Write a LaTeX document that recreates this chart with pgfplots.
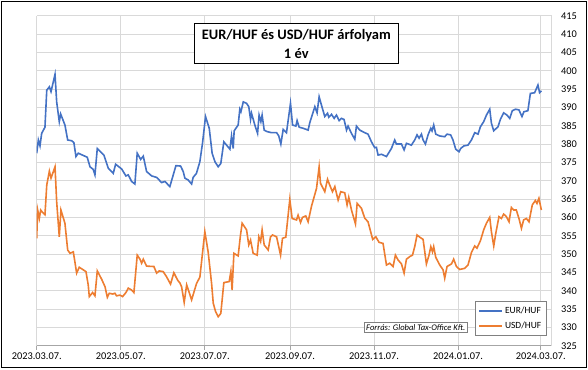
\documentclass[border=0pt]{standalone}
\usepackage{fontspec}
\setmainfont{Carlito}
\usepackage{pgfplots}
\pgfplotsset{compat=1.18}
\definecolor{eurblue}{HTML}{4472C4}
\definecolor{usdorange}{HTML}{ED7D31}
\definecolor{gridgray}{HTML}{D9D9D9}
\definecolor{axgray}{HTML}{A6A6A6}

\begin{document}
\begin{tikzpicture}[x=1bp,y=1bp]
\useasboundingbox (0,0) rectangle (588,369);
\begin{axis}[
 at={(36.7bp,23.3bp)}, anchor=south west,
 scale only axis, width=515bp, height=330bp,
 xmin=0, xmax=374, ymin=325, ymax=415,
 axis x line*=bottom, axis y line*=right,
 x axis line style={draw=axgray, line width=0.8bp, -},
 y axis line style={draw=gridgray, line width=0.8bp, -},
 xtick={0,61,122,184,245,306,366},
 xticklabels={2023.03.07.,2023.05.07.,2023.07.07.,2023.09.07.,2023.11.07.,2024.01.07.,2024.03.07.},
 ytick={325,330,...,415},
 grid=major, major grid style={draw=gridgray, line width=0.8bp},
 xtick align=outside, major tick length=4bp,
 x tick style={draw=axgray, line width=0.8bp},
 y tick style={draw=none},
 tick label style={font=\fontsize{10.4}{12}\selectfont, text=black},
 yticklabel style={xshift=6bp},
 /pgf/number format/assume math mode=true,
 legend style={at={(0.990,0.032)}, anchor=south east, draw=gray, line width=0.6bp,
   font=\fontsize{9.5}{11}\selectfont, cells={anchor=west}, row sep=3bp, inner sep=3bp},
 legend image code/.code={\draw[#1] (0bp,0bp) -- (23bp,0bp);},
]
\addplot[eurblue, line width=1.6bp] coordinates {
(0,377.5) (1.2,381.1) (2.4,379.5) (3.6,382.9) (6,384.6) (7.3,394.7) (9.2,395.6) (10.4,394.3)
(13.3,399.0) (14.5,391.5) (16.4,386.1) (17.4,388.2) (20.5,385.2) (22.5,381.1) (25.4,380.9)
(27,380.4) (28.5,376.6) (30.2,377.5) (36.7,376.4) (38.7,373.8) (41,373.1) (42.3,371.6)
(44,378.8) (48.8,377.0) (52,373.4) (55.6,372.0) (57.3,374.5) (61.7,373.2) (64.8,371.3)
(66.5,371.6) (68.9,369.8) (71.3,369.1) (73,377.5) (75.5,375.8) (77.4,376.7) (79.8,372.5)
(83.5,371.3) (87.1,370.9) (90.7,369.5) (93.1,369.8) (96.7,368.4) (101.1,374.1) (104.5,374.0)
(106.4,372.5) (107.6,370.7) (110,370.2) (112.5,369.1) (113.6,370.9) (116,372.0) (118.5,375.2)
(120.4,380.2) (122.6,387.5) (125.3,384.3) (127.4,377.5) (129.4,375.2) (131.8,373.8) (133.7,374.7)
(135.9,380.6) (137.9,379.7) (140.3,378.6) (141.5,382.2) (142.7,378.8) (143.4,383.6) (146.3,385.2)
(147.5,389.5) (148.3,388.8) (150,391.5) (152.4,391.1) (154,390.2) (155.3,386.7) (156,388.4)
(158.4,385.2) (160.4,382.9) (161.5,387.9) (162.8,386.1) (163.7,387.9) (165.2,383.8) (167.3,383.4)
(170.5,383.1) (174.2,383.1) (175.8,382.2) (177.3,380.0) (179,384.0) (181.4,383.1) (184.3,391.1)
(185.8,385.2) (188.2,384.9) (189.1,386.4) (190.6,384.6) (193.5,384.3) (197.1,383.8) (198.3,385.8)
(202,390.2) (203.6,388.5) (205.1,392.9) (206.8,390.6) (209.2,387.5) (211.2,388.4) (212.1,387.3)
(214.1,388.1) (216,387.0) (217.7,387.9) (219.6,386.4) (221.3,387.0) (223.2,386.7) (225,383.8)
(226.1,384.9) (228.6,382.9) (231,381.3) (232.2,384.9) (234.6,383.8) (238.2,383.1) (240.6,382.7)
(243.1,380.6) (245.5,379.0) (246.7,379.1) (247.9,377.0) (250.4,377.2) (254,376.6) (257.6,378.8)
(260,381.1) (261.2,380.0) (264.9,380.0) (266.8,378.4) (268.5,380.2) (272.1,379.7) (274.5,381.1)
(276.2,382.5) (277.7,381.6) (279.4,382.7) (280.6,381.1) (282.3,380.0) (284.2,382.5) (286.2,384.3)
(287.1,383.6) (288.3,385.2) (289.8,382.7) (292.7,382.2) (296.3,382.0) (298,382.7) (300.6,382.5)
(302.3,381.1) (304.3,378.6) (306.7,377.9) (307.9,378.8) (310.3,379.5) (313.2,379.7) (315.7,381.1)
(318.1,383.1) (320.5,382.7) (322.2,384.7) (324.6,386.1) (326.6,387.9) (329,389.5) (330.2,385.7)
(331.9,383.6) (333.8,384.3) (335,384.7) (336.7,386.7) (339.1,388.5) (341.5,387.9) (343.5,387.0)
(345.4,389.1) (347.8,389.5) (350.2,389.3) (352.4,387.5) (353.8,388.8) (356.7,389.1) (358.5,393.8)
(361.6,394.0) (364,396.1) (365.2,394.0) (366.5,394.5)
};
\addlegendentry{EUR/HUF}
\addplot[usdorange, line width=1.6bp] coordinates {
(0,354.3) (0.7,362.0) (1.9,359.7) (2.9,362.0) (4.4,361.3) (6,360.7) (7.3,368.8) (9.2,372.6)
(10.4,370.7) (13.3,373.8) (14.5,364.3) (16.4,354.7) (17.6,362.0) (20.5,358.4) (22.5,351.1)
(24.2,350.2) (26.6,350.6) (29,344.8) (30.9,346.4) (35.8,345.2) (37.4,341.6) (38.2,338.4)
(40.6,339.5) (42.3,338.6) (44,345.4) (47.2,343.1) (49.6,341.1) (51.3,338.2) (52.7,339.3)
(55.2,339.1) (56.8,339.3) (58,338.6) (60.4,338.8) (62.4,338.4) (64.8,339.5) (66.5,340.7)
(68.9,340.2) (70.6,339.5) (73,349.7) (75,348.6) (76.2,347.5) (77.4,348.6) (79.8,346.7)
(85.1,346.6) (87.1,344.8) (89,345.4) (91.9,345.2) (94.3,343.8) (97.2,341.8) (99.6,344.9)
(102.3,342.9) (104,342.1) (105.2,341.1) (107.1,336.8) (108.9,341.6) (112.5,337.5) (116.1,342.0)
(118.5,343.7) (122.1,356.1) (124.5,350.6) (127,342.0) (128.2,336.6) (129.9,334.3) (131.8,332.9)
(133.7,333.8) (135.9,342.2) (139.8,342.5) (141,345.2) (141.9,340.2) (143.2,350.2) (146.3,349.5)
(148,355.2) (149.2,358.4) (152.4,356.6) (154,352.5) (155.3,353.8) (157.2,350.2) (160.1,349.7)
(161.3,354.7) (162.6,353.4) (163.7,356.6) (165.2,352.5) (168.1,351.1) (169.8,354.7) (171.3,355.2)
(174.2,354.7) (177.1,349.7) (178.5,354.3) (180.9,354.6) (183.8,364.9) (185.5,359.7) (188.7,359.3)
(189.8,360.6) (191.6,358.6) (193,360.0) (195.4,360.4) (197.1,358.8) (199.6,363.1) (203.2,367.9)
(205.1,373.8) (206.1,369.3) (209.2,367.0) (211.2,370.4) (212.8,368.8) (214.8,367.0) (216.5,368.4)
(218.9,364.7) (220.8,367.0) (223.7,366.7) (225.4,363.4) (226.6,365.5) (228.6,362.0) (231.5,358.2)
(232.7,363.8) (235.8,362.5) (238.2,359.8) (240.6,358.8) (244,354.0) (246.3,354.7) (248.6,353.2)
(251.5,352.9) (254,347.0) (256.4,347.5) (258.8,346.6) (260.5,349.7) (262.4,348.4) (264.9,347.3)
(266.8,344.8) (268.5,348.6) (270.9,349.3) (272.9,349.7) (274.5,352.0) (276.2,355.2) (278.2,354.6)
(280.6,354.0) (283,347.3) (284.9,349.7) (286.2,352.0) (287.4,350.6) (288.3,352.0) (289.8,349.1)
(292.7,347.0) (295.1,345.7) (296.3,343.4) (298,346.6) (301.2,347.3) (302.8,348.6) (304.8,346.6)
(307.2,345.8) (310.8,346.1) (313.2,347.0) (315.7,350.4) (318.1,352.2) (319.7,351.6) (322.2,353.6)
(324.6,356.6) (326.6,358.4) (329,360.0) (330.2,356.1) (331.9,352.2) (333.4,355.7) (335.7,360.2)
(337.5,359.7) (339.1,360.9) (341.1,360.2) (343,358.8) (344.7,362.7) (346.4,362.0) (348.3,362.0)
(350.2,359.7) (352,357.0) (353.6,359.3) (355.6,359.7) (357.5,358.8) (359.9,363.4) (362.1,364.6)
(363.3,363.8) (364.7,365.2) (366.5,362.0)
};
\addlegendentry{USD/HUF}
\end{axis}
\node[draw=black, line width=1bp, fill=white, align=center,
  font=\bfseries\fontsize{14.5}{19}\selectfont,
  minimum width=204bp, minimum height=40.7bp, inner sep=0pt] at (296.3,325.4)
  {EUR/HUF és USD/HUF árfolyam\\1 év};
\node[draw=gray, line width=0.6bp, fill=white, font=\itshape\fontsize{8.6}{10}\selectfont,
  inner sep=1.8bp, anchor=east] at (467.3,41.5) {Forrás: Global Tax-Office Kft.};
\draw[line width=1.5bp] (1.5,1.5) rectangle (586.5,367.5);
\end{tikzpicture}
\end{document}
